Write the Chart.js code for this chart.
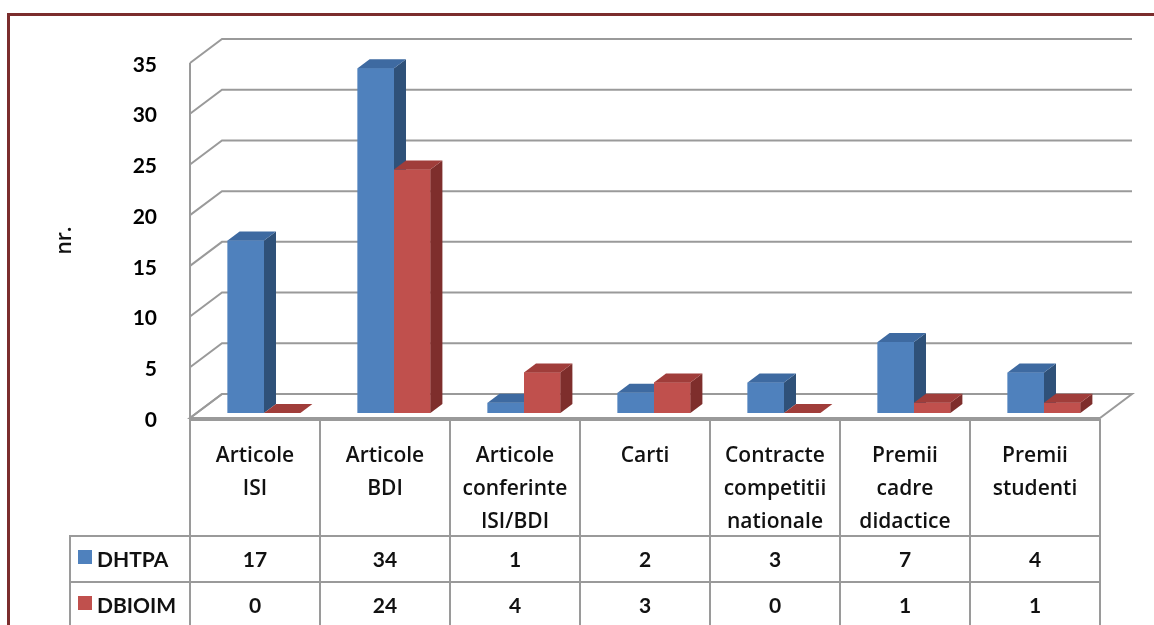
<!DOCTYPE html>
<html>
<head>
<meta charset="utf-8">
<script src="https://cdn.jsdelivr.net/npm/chart.js@4.4.0/dist/chart.umd.min.js"></script>
<style>
  body { margin: 0; background: #fff; width: 1154px; height: 625px; overflow: hidden; position: relative; }
  #frame { position: absolute; left: 7px; top: 13px; width: 1300px; height: 800px;
           border-top: 3px solid #7b2d2d; border-left: 3px solid #7b2d2d; }
  #chart { position: absolute; left: 0; top: 0; }
  .ln { position: absolute; background: #9a9a9a; }
  .txt { position: absolute; text-align: center; font-family: 'Lato', sans-serif; font-weight: bold;
         font-size: 21px; color: #111; }
  .cat { font-family: 'Open Sans', sans-serif; font-weight: 600; font-size: 21px; }
  .sw { position: absolute; width: 14px; height: 14px; }
</style>
</head>
<body>
<div id="frame"></div>
<canvas id="chart" width="1154" height="625"></canvas>
<div id="table"></div>
<script>
const categories = [
  ["Articole", "ISI"],
  ["Articole", "BDI"],
  ["Articole", "conferinte", "ISI/BDI"],
  ["Carti"],
  ["Contracte", "competitii", "nationale"],
  ["Premii", "cadre", "didactice"],
  ["Premii", "studenti"]
];
const seriesNames = ["DHTPA", "DBIOIM"];
const dhtpa = [17, 34, 1, 2, 3, 7, 4];
const dbioim = [0, 24, 4, 3, 0, 1, 1];
const yTickValues = [0, 5, 10, 15, 20, 25, 30, 35];

// colours: front, top, side
const faces = [
  { front: "#4f81bd", top: "#3e6aa1", side: "#2f5179" },
  { front: "#c0504d", top: "#a03d3a", side: "#7e2e2c" }
];

const DX = 32, DY = -24;       // depth of the plot box
const BX = 12, BY = -9;        // depth of a bar
const SHIFT_X = 9, SHIFT_Y = -5; // bars sit a bit behind the front plane

const wallsPlugin = {
  id: "walls",
  beforeDatasetsDraw(chart) {
    const { ctx, chartArea: a, scales: { y } } = chart;
    const y0 = y.getPixelForValue(0);
    ctx.save();
    ctx.strokeStyle = "#9a9a9a";
    ctx.lineWidth = 2;
    yTickValues.forEach(v => {
      const py = y.getPixelForValue(v);
      ctx.beginPath();
      ctx.moveTo(a.left, py);
      ctx.lineTo(a.left + DX, py + DY);
      if (v > 0) ctx.lineTo(a.right + DX, py + DY);
      ctx.stroke();
    });
    ctx.beginPath();
    ctx.moveTo(a.left, y0);
    ctx.lineTo(a.left, y.getPixelForValue(yTickValues[yTickValues.length - 1]));
    ctx.stroke();
    // floor
    ctx.beginPath();
    ctx.moveTo(a.left, y0);
    ctx.lineTo(a.right, y0);
    ctx.lineTo(a.right + DX, y0 + DY);
    ctx.lineTo(a.left + DX, y0 + DY);
    ctx.closePath();
    ctx.stroke();
    ctx.restore();
    // bars are drawn shifted back into the box
    ctx.save();
    ctx.translate(SHIFT_X, SHIFT_Y);
  },
  afterDatasetsDraw(chart) {
    // redraw category by category so each bar's side is hidden by its right neighbour
    const ctx = chart.ctx;
    const metas = [chart.getDatasetMeta(0), chart.getDatasetMeta(1)];
    categories.forEach((_, i) => {
      metas.forEach((meta, d) => {
        const bar = meta.data[i];
        const c = faces[d];
        bar.draw(ctx, chart.chartArea);
        const { x, y, base, width } = bar.getProps(["x", "y", "base", "width"], true);
        const l = x - width / 2, r = x + width / 2;
        ctx.fillStyle = c.side;
        ctx.beginPath();
        ctx.moveTo(r, y); ctx.lineTo(r + BX, y + BY);
        ctx.lineTo(r + BX, base + BY); ctx.lineTo(r, base);
        ctx.closePath(); ctx.fill();
        ctx.fillStyle = c.top;
        ctx.beginPath();
        ctx.moveTo(l, y); ctx.lineTo(l + BX, y + BY);
        ctx.lineTo(r + BX, y + BY); ctx.lineTo(r, y);
        ctx.closePath(); ctx.fill();
      });
    });
    ctx.restore();
  }
};

const chart = new Chart(document.getElementById("chart"), {
  type: "bar",
  data: {
    labels: categories,
    datasets: [
      { label: seriesNames[0], data: dhtpa, backgroundColor: faces[0].front },
      { label: seriesNames[1], data: dbioim, backgroundColor: faces[1].front }
    ]
  },
  options: {
    responsive: false,
    animation: false,
    events: [],
    layout: { padding: { left: 50, right: 54, top: 63, bottom: 207 } },
    datasets: { bar: { categoryPercentage: 0.56, barPercentage: 1, borderWidth: 0, clip: false } },
    plugins: { legend: { display: false }, tooltip: { enabled: false } },
    scales: {
      x: { display: false },
      y: {
        min: 0, max: 35,
        afterFit: s => { s.width = 140; },
        afterBuildTicks: s => { s.ticks = yTickValues.map(v => ({ value: v })); },
        grid: { display: false },
        border: { display: false },
        ticks: { padding: 25, labelOffset: 2, color: "#000",
                 font: { family: "Lato", size: 21, weight: "bold" } },
        title: { display: true, text: "nr.", color: "#111", padding: { top: 2, bottom: 0 },
                 font: { family: "Open Sans", size: 21, weight: "600" } }
      }
    }
  },
  plugins: [wallsPlugin]
});

// data table under the plot
function buildTable() {
  const a = chart.chartArea;
  const colW = (a.right - a.left) / categories.length;
  const top = a.bottom + 2, rowH1 = 116, rowH = 46, legL = 70;
  const rows = [top + rowH1, top + rowH1 + rowH, top + rowH1 + 2 * rowH];
  const el = document.getElementById("table");
  let html = "";
  const hline = (x1, x2, y) => `<div class="ln" style="left:${x1 - 1}px;top:${y - 1}px;width:${x2 - x1 + 2}px;height:2px"></div>`;
  const vline = (x, y1, y2) => `<div class="ln" style="left:${x - 1}px;top:${y1 - 1}px;width:2px;height:${y2 - y1 + 2}px"></div>`;
  html += hline(a.left, a.right, top);
  rows.forEach(y => { html += hline(legL, a.right, y); });
  html += vline(legL, rows[0], rows[2]);
  for (let i = 0; i <= categories.length; i++) html += vline(a.left + i * colW, top, rows[2]);
  categories.forEach((lines, i) => {
    html += `<div class="txt cat" style="left:${a.left + i * colW}px;top:${top + 18}px;width:${colW}px;line-height:33px">${lines.join("<br>")}</div>`;
  });
  const series = [dhtpa, dbioim];
  series.forEach((vals, s) => {
    const y = rows[s];
    html += `<div class="sw" style="left:${legL + 8}px;top:${y + 14}px;background:${faces[s].front}"></div>`;
    html += `<div class="txt" style="left:${legL + 27}px;top:${y}px;line-height:${rowH}px;text-align:left">${seriesNames[s]}</div>`;
    vals.forEach((v, i) => {
      html += `<div class="txt" style="left:${a.left + i * colW}px;top:${y}px;width:${colW}px;line-height:${rowH}px">${v}</div>`;
    });
  });
  el.innerHTML = html;
}
buildTable();
</script>
</body>
</html>
